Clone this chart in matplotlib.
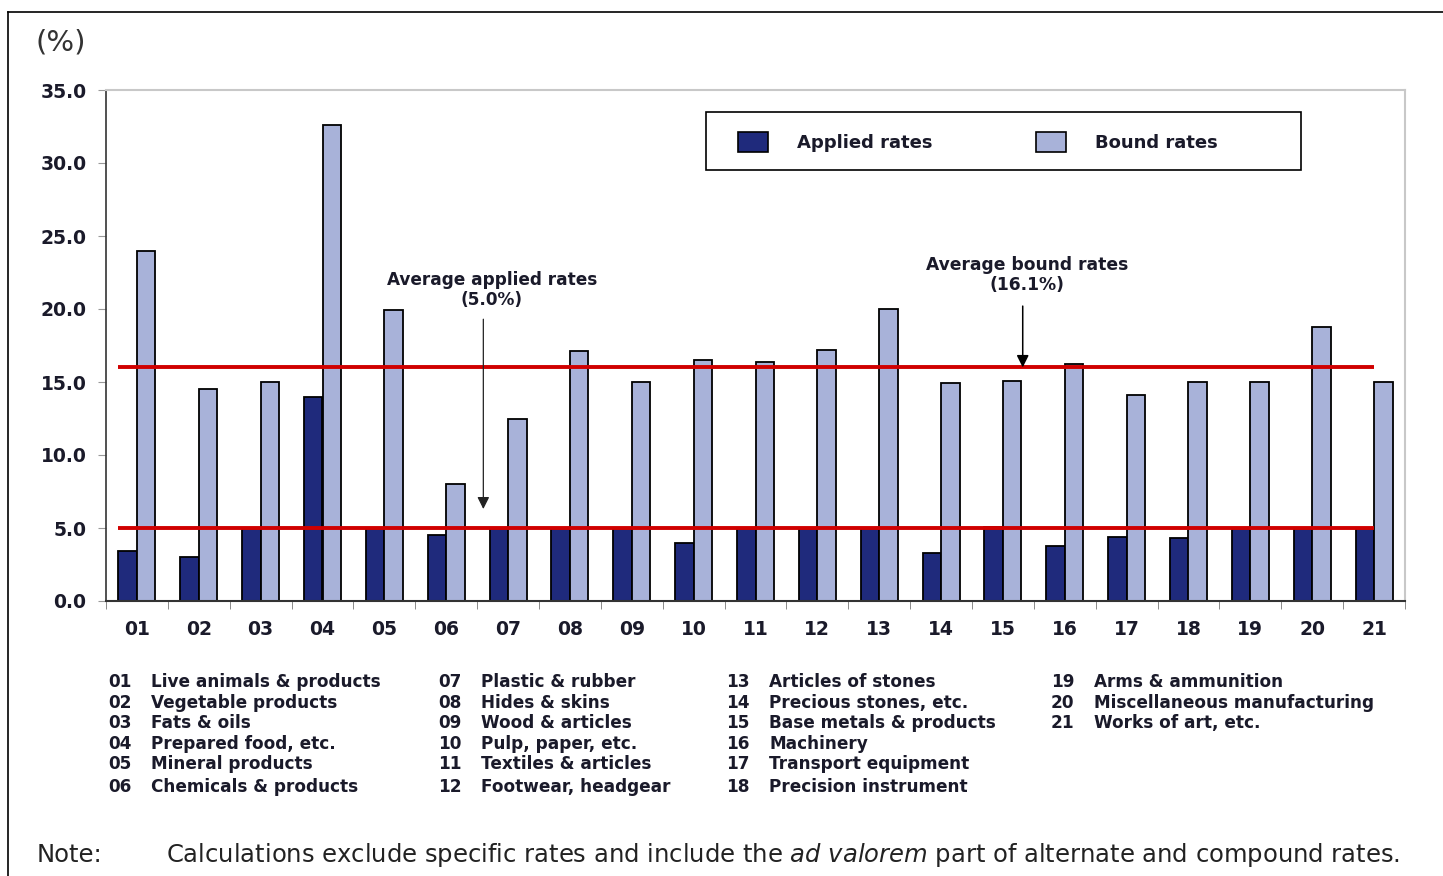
import numpy as np
import matplotlib
matplotlib.use("Agg")
import matplotlib.pyplot as plt
from matplotlib.patches import Rectangle, Patch
from matplotlib.lines import Line2D

# chapter codes and tariff rates (%)
codes = ["01", "02", "03", "04", "05", "06", "07", "08", "09", "10", "11",
         "12", "13", "14", "15", "16", "17", "18", "19", "20", "21"]
applied = [3.4, 3.0, 5.0, 14.0, 5.0, 4.5, 5.0, 5.0, 5.0, 4.0, 5.0,
           5.0, 5.0, 3.3, 5.1, 3.8, 4.4, 4.3, 5.0, 5.0, 5.0]
bound = [24.0, 14.5, 15.0, 32.6, 19.9, 8.0, 12.5, 17.1, 15.0, 16.5, 16.4,
         17.2, 20.0, 14.9, 15.1, 16.2, 14.1, 15.0, 15.0, 18.8, 15.0]
avg_applied = 5.0
avg_bound = 16.1
avg_bound_line = 16.0
descriptions = ["Live animals & products", "Vegetable products", "Fats & oils",
                "Prepared food, etc.", "Mineral products", "Chemicals & products",
                "Plastic & rubber", "Hides & skins", "Wood & articles",
                "Pulp, paper, etc.", "Textiles & articles", "Footwear, headgear",
                "Articles of stones", "Precious stones, etc.", "Base metals & products",
                "Machinery", "Transport equipment", "Precision instrument",
                "Arms & ammunition", "Miscellaneous manufacturing", "Works of art, etc."]
yticks = [0, 5, 10, 15, 20, 25, 30, 35]

W, H = 1443, 876
navy = "#1F2A7C"
lilac = "#A8B2D9"
red = "#D00000"
txt = "#1A1A2A"

plt.rcParams["font.family"] = ["DejaVu Sans"]

fig = plt.figure(figsize=(W / 100, H / 100), dpi=100)

def fx(px):
    return px / W

def fy(py):
    return 1 - py / H

ax = fig.add_axes([fx(106), fy(601), (1405 - 106) / W, (601 - 90) / H])

x = np.arange(len(codes))
bw = 0.3
ax.bar(x - bw / 2, applied, width=bw, color=navy, edgecolor="black", linewidth=1.3, zorder=2)
ax.bar(x + bw / 2, bound, width=bw, color=lilac, edgecolor="black", linewidth=1.3, zorder=2)

# average lines
ax.plot([x[0] - bw, x[-1]], [avg_bound_line, avg_bound_line], color=red, lw=2.8, zorder=3,
        solid_capstyle="butt")
ax.plot([x[0] - bw, x[-1]], [avg_applied, avg_applied], color=red, lw=2.8, zorder=3,
        solid_capstyle="butt")

ax.set_xlim(-0.5, len(codes) - 0.5)
ax.set_ylim(0, 35)
ax.set_yticks(yticks)
ax.set_yticklabels([f"{v:.1f}" for v in yticks], fontsize=13.5, fontweight="bold", color=txt)
ax.set_xticks(x)
ax.set_xticklabels(codes, fontsize=13.5, fontweight="bold", color=txt)
ax.set_xticks(np.arange(-0.5, len(codes)), minor=True)
ax.tick_params(axis="x", which="major", length=0, pad=14)
ax.tick_params(axis="x", which="minor", length=6, color="#777777", direction="out")
ax.tick_params(axis="y", length=6, color="#999999", direction="out", pad=8)

for s in ["top", "right"]:
    ax.spines[s].set_color("#C8C8C8")
    ax.spines[s].set_linewidth(1.5)
ax.spines["left"].set_color("#333333")
ax.spines["bottom"].set_color("#333333")
ax.spines["left"].set_linewidth(1.2)
ax.spines["bottom"].set_linewidth(1.5)

# annotations
ax.annotate("", xy=(5.6, 6.3), xytext=(5.6, 19.3), zorder=4,
            arrowprops=dict(arrowstyle="-|>", color="#222222", lw=0.9, mutation_scale=18,
                            shrinkA=0, shrinkB=0))
ax.text(5.74, 21.3, f"Average applied rates\n({avg_applied:.1f}%)", ha="center", va="center",
        fontsize=12.2, fontweight="bold", color=txt, linespacing=1.15)
ax.annotate("", xy=(14.32, avg_bound_line), xytext=(14.32, 20.2), zorder=4,
            arrowprops=dict(arrowstyle="-|>", color="black", lw=1.1, mutation_scale=18,
                            shrinkA=0, shrinkB=0))
ax.text(14.39, 22.3, f"Average bound rates\n({avg_bound:.1f}%)", ha="center", va="center",
        fontsize=12.3, fontweight="bold", color=txt, linespacing=1.15)

# legend with separate frame
ax.add_patch(Rectangle(((706 - 106) / 1299, (601 - 170) / 511), (1301 - 706) / 1299, 58 / 511,
                       transform=ax.transAxes, facecolor="white", edgecolor="black",
                       lw=1.2, clip_on=False, zorder=5))
handles = [Patch(facecolor=navy, edgecolor="black", lw=1.2, label="Applied rates"),
           Patch(facecolor=lilac, edgecolor="black", lw=1.2, label="Bound rates")]
leg = ax.legend(handles=handles, loc="center left", bbox_to_anchor=((738 - 106) / 1299, (601 - 142) / 511),
                ncol=2, frameon=False, borderpad=0, borderaxespad=0, handlelength=1.66,
                handleheight=1.3, handletextpad=1.6, columnspacing=5.75,
                prop={"size": 13, "weight": "bold"})
leg.set_zorder(6)
for t in leg.get_texts():
    t.set_color(txt)

# unit label
fig.text(fx(36), fy(42), "(%)", fontsize=21, color="#333333", va="center", ha="left")

# category key
col_x = [(108, 151), (438, 481), (726, 769), (1051, 1094)]
row_y = [687, 708, 728, 749, 769, 792]
for i, (c, d) in enumerate(zip(codes, descriptions)):
    cx, dx = col_x[i // 6]
    ry = row_y[i % 6]
    fig.text(fx(cx), fy(ry), c, fontsize=12.2, fontweight="bold", color=txt, va="baseline")
    fig.text(fx(dx), fy(ry), d, fontsize=12.2, fontweight="bold", color=txt, va="baseline")

# note
fig.text(fx(37), fy(855), "Note:", fontsize=17.5, color="#222222", va="center")
fig.text(fx(166), fy(855),
         "Calculations exclude specific rates and include the $\\it{ad\\ valorem}$ part of alternate and compound rates.",
         fontsize=17.5, color="#222222", va="center")

# outer frame (top and left edges)
fig.add_artist(Line2D([fx(8), 1], [fy(12), fy(12)], color="black", lw=1.2))
fig.add_artist(Line2D([fx(8), fx(8)], [fy(12), 0], color="black", lw=1.2))

fig.savefig("out.png", dpi=100)
